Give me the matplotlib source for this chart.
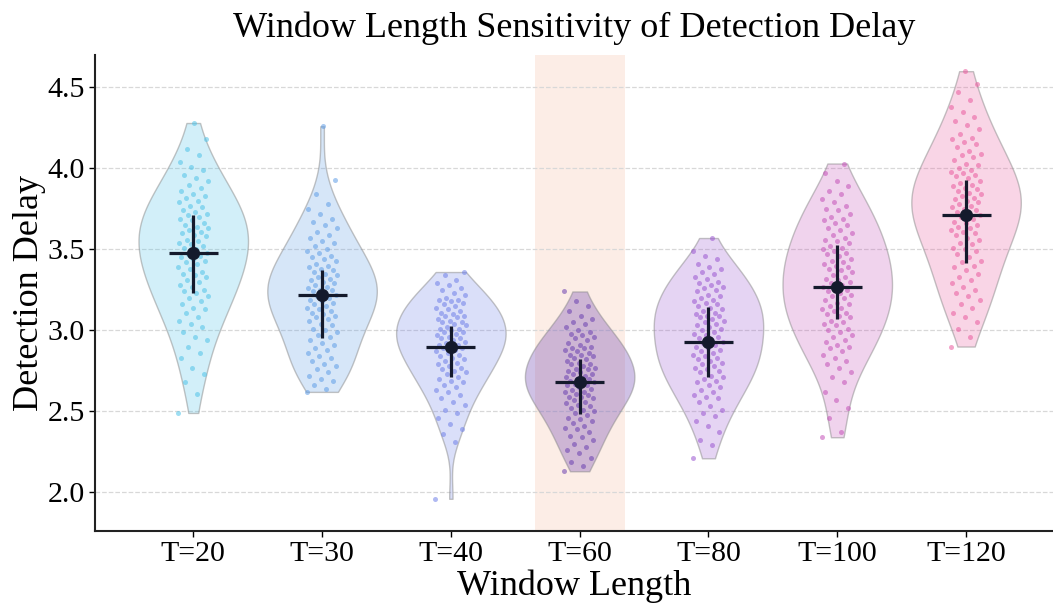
import numpy as np
import matplotlib.pyplot as plt
from matplotlib.colors import to_rgba

# window lengths and detection delay samples
labels = ["T=20", "T=30", "T=40", "T=60", "T=80", "T=100", "T=120"]

delay_t20 = [2.49, 2.61, 2.68, 2.73, 2.77, 2.83, 2.86, 2.90, 2.94, 2.96, 2.99, 3.02, 3.04,
             3.06, 3.08, 3.11, 3.13, 3.14, 3.16, 3.18, 3.20, 3.21, 3.23, 3.24,
             3.25, 3.27, 3.28, 3.30, 3.31, 3.33, 3.34, 3.35, 3.36, 3.38, 3.39, 3.41, 3.42, 3.43, 3.44,
             3.45, 3.46, 3.47, 3.48, 3.50, 3.51, 3.52, 3.53, 3.54, 3.55, 3.56, 3.58, 3.59, 3.60,
             3.61, 3.62, 3.63, 3.64, 3.65, 3.66, 3.68, 3.69, 3.70, 3.71, 3.72, 3.73, 3.74,
             3.76, 3.77, 3.79, 3.80, 3.82, 3.83, 3.84, 3.86, 3.88, 3.90, 3.92, 3.94,
             3.96, 3.99, 4.01, 4.04, 4.08, 4.12, 4.18, 4.28]
delay_t30 = [2.62, 2.64, 2.66, 2.69, 2.70, 2.72, 2.74, 2.76, 2.78, 2.79, 2.81, 2.83, 2.84, 2.86,
             2.88, 2.89, 2.91, 2.92, 2.94, 2.96, 2.97, 2.99, 3.00, 3.01, 3.03, 3.04, 3.06, 3.07,
             3.08, 3.09, 3.10, 3.11, 3.12, 3.13, 3.14, 3.15, 3.16, 3.17, 3.18, 3.19, 3.20, 3.21,
             3.22, 3.23, 3.24, 3.25, 3.25, 3.26, 3.27, 3.28, 3.29, 3.30, 3.31, 3.32, 3.33, 3.34,
             3.35, 3.36, 3.37, 3.38, 3.39, 3.40, 3.41, 3.43, 3.44, 3.45, 3.46, 3.48, 3.49,
             3.50, 3.52, 3.54, 3.55, 3.57, 3.59, 3.61, 3.63, 3.65, 3.67, 3.69, 3.72, 3.75, 3.78,
             3.84, 3.93, 4.26]
delay_t40 = [1.96, 2.31, 2.36, 2.39, 2.42, 2.46, 2.49, 2.51, 2.54, 2.56, 2.58,
             2.60, 2.62, 2.63, 2.65, 2.66, 2.68, 2.69, 2.70, 2.71, 2.73, 2.74, 2.75, 2.76, 2.77,
             2.78, 2.79, 2.80, 2.81, 2.82, 2.83, 2.84, 2.85, 2.86, 2.87, 2.88, 2.89, 2.89,
             2.90, 2.91, 2.91, 2.92, 2.93, 2.94, 2.95, 2.95, 2.96, 2.97, 2.98, 2.99, 2.99,
             3.00, 3.01, 3.01, 3.02, 3.03, 3.04, 3.05, 3.05, 3.06, 3.07, 3.08, 3.09, 3.09,
             3.10, 3.11, 3.12, 3.13, 3.14, 3.15, 3.16, 3.17, 3.18, 3.19, 3.19,
             3.20, 3.22, 3.23, 3.25, 3.26, 3.28, 3.29, 3.31, 3.34, 3.36]
delay_t60 = [2.13, 2.16, 2.19, 2.21, 2.24, 2.26, 2.28, 2.30, 2.32, 2.34, 2.35, 2.37, 2.39,
             2.40, 2.41, 2.43, 2.44, 2.45, 2.46, 2.48, 2.49, 2.50, 2.51, 2.52, 2.53, 2.54, 2.55,
             2.56, 2.57, 2.58, 2.59, 2.59, 2.60, 2.61, 2.62, 2.62, 2.63, 2.64, 2.65, 2.66, 2.66,
             2.67, 2.68, 2.69, 2.69, 2.70, 2.70, 2.71, 2.72, 2.73, 2.73, 2.74, 2.75, 2.76, 2.76,
             2.77, 2.78, 2.79, 2.79, 2.80, 2.81, 2.82, 2.83, 2.84, 2.85, 2.85, 2.86, 2.87, 2.88,
             2.89, 2.89, 2.90, 2.91, 2.92, 2.94, 2.95, 2.96, 2.97, 2.98, 2.99,
             3.00, 3.02, 3.04, 3.05, 3.07, 3.09, 3.12, 3.15, 3.18, 3.24]
delay_t80 = [2.21, 2.29, 2.32, 2.37, 2.41, 2.44, 2.47, 2.49, 2.51, 2.53, 2.56, 2.58, 2.59,
             2.60, 2.62, 2.63, 2.65, 2.66, 2.68, 2.69, 2.70, 2.71, 2.72, 2.74, 2.75, 2.76, 2.77,
             2.78, 2.79, 2.80, 2.81, 2.82, 2.83, 2.84, 2.85, 2.86, 2.87, 2.88, 2.89,
             2.90, 2.91, 2.92, 2.93, 2.94, 2.95, 2.96, 2.97, 2.98, 2.99,
             3.00, 3.01, 3.02, 3.03, 3.04, 3.05, 3.06, 3.07, 3.08, 3.09, 3.09,
             3.10, 3.11, 3.12, 3.13, 3.14, 3.15, 3.16, 3.17, 3.18, 3.19,
             3.20, 3.21, 3.22, 3.24, 3.25, 3.26, 3.27, 3.28, 3.29,
             3.30, 3.32, 3.33, 3.35, 3.36, 3.38, 3.39, 3.41, 3.44, 3.46, 3.49, 3.57]
delay_t100 = [2.34, 2.37, 2.46, 2.52, 2.57, 2.62, 2.68, 2.71, 2.74, 2.77, 2.79,
              2.81, 2.83, 2.85, 2.87, 2.89, 2.90, 2.91, 2.93, 2.94, 2.96, 2.97, 2.99,
              3.00, 3.01, 3.03, 3.04, 3.05, 3.06, 3.08, 3.09,
              3.10, 3.11, 3.12, 3.13, 3.14, 3.15, 3.16, 3.17, 3.19,
              3.20, 3.21, 3.22, 3.23, 3.24, 3.25, 3.26, 3.27, 3.28, 3.29,
              3.30, 3.31, 3.32, 3.33, 3.34, 3.36, 3.37, 3.38, 3.39,
              3.40, 3.41, 3.42, 3.43, 3.44, 3.46, 3.47, 3.48, 3.49,
              3.50, 3.51, 3.52, 3.54, 3.55, 3.56, 3.57, 3.59,
              3.60, 3.62, 3.63, 3.65, 3.66, 3.68, 3.69,
              3.70, 3.72, 3.74, 3.75, 3.77, 3.79, 3.81, 3.84, 3.86, 3.89, 3.92, 3.97, 4.03]
delay_t120 = [2.90, 2.96, 3.01, 3.05, 3.08, 3.11, 3.14, 3.16, 3.19, 3.21, 3.23, 3.25, 3.27, 3.29,
              3.31, 3.33, 3.35, 3.37, 3.39, 3.40, 3.42, 3.43, 3.45, 3.47, 3.49,
              3.50, 3.51, 3.53, 3.54, 3.56, 3.57, 3.59,
              3.60, 3.61, 3.62, 3.63, 3.64, 3.65, 3.66, 3.67, 3.69,
              3.70, 3.71, 3.72, 3.73, 3.74, 3.75, 3.76, 3.77, 3.78, 3.79,
              3.80, 3.81, 3.82, 3.83, 3.84, 3.85, 3.86, 3.87, 3.88, 3.89,
              3.90, 3.91, 3.92, 3.94, 3.95, 3.96, 3.97, 3.98, 3.99,
              4.00, 4.02, 4.03, 4.05, 4.07, 4.08, 4.09, 4.11, 4.13, 4.15, 4.16, 4.18, 4.19,
              4.21, 4.24, 4.27, 4.29, 4.32, 4.35, 4.38, 4.42, 4.47, 4.52, 4.60]

groups = [delay_t20, delay_t30, delay_t40, delay_t60, delay_t80, delay_t100, delay_t120]

# summary markers (mean and interval bars as drawn in the figure)
means = [3.48, 3.22, 2.90, 2.68, 2.93, 3.265, 3.71]
lower = [3.23, 2.955, 2.71, 2.486, 2.71, 3.07, 3.414]
upper = [3.71, 3.37, 3.025, 2.825, 3.146, 3.527, 3.928]

colors = ['#4fc3e8', '#5f9de6', '#6f80e8', '#6a3fb0', '#9a55d0', '#c450b8', '#ea5a9e']
highlight = 3
dark = '#141a2c'

plt.rcParams['font.family'] = ['Liberation Serif', 'DejaVu Serif']

fig = plt.figure(figsize=(10.53, 6.03), dpi=100)
ax = fig.add_axes([0.0902, 0.1199, 0.9098, 0.7889])
pos = np.arange(len(labels))

ax.axvspan(highlight - 0.35, highlight + 0.35, color='#f4a582', alpha=0.2, lw=0, zorder=0)

parts = ax.violinplot(groups, positions=pos, widths=0.85, showextrema=False)
for i, body in enumerate(parts['bodies']):
    body.set_alpha(None)
    a = 0.32 if i == highlight else 0.25
    body.set_facecolor(to_rgba(colors[i], a))
    body.set_edgecolor(to_rgba('#8a8a8a', 0.5))
    body.set_linewidth(1.0)
    body.set_zorder(2)

# jittered raw points
for i, vals in enumerate(groups):
    n = len(vals)
    jit = ((np.arange(n) * 0.618034) % 1 - 0.5) * 0.24
    ax.scatter(pos[i] + jit, vals, s=13, color=colors[i], alpha=0.55, lw=0, zorder=3)

ax.vlines(pos, lower, upper, color=dark, lw=2.3, zorder=4)
ax.hlines(means, pos - 0.19, pos + 0.19, color=dark, lw=2.3, zorder=4)
ax.plot(pos, means, 'o', ms=8.5, color=dark, zorder=5)

ax.set_xlim(-0.763, 6.675)
ax.set_ylim(1.763, 4.70)
ax.set_xticks(pos)
ax.set_xticklabels(labels)
ax.set_yticks([2.0, 2.5, 3.0, 3.5, 4.0, 4.5])
ax.set_yticklabels(['2.0', '2.5', '3.0', '3.5', '4.0', '4.5'])
ax.tick_params(labelsize=21.5, length=4, width=1)

ax.yaxis.grid(True, linestyle='--', color='#d8d8d8', lw=0.9)
ax.set_axisbelow(True)
for s in ['top', 'right']:
    ax.spines[s].set_visible(False)
for s in ['left', 'bottom']:
    ax.spines[s].set_linewidth(1.5)
    ax.spines[s].set_color('#222222')

ax.set_title('Window Length Sensitivity of Detection Delay', fontsize=26, pad=13)
ax.set_xlabel('Window Length', fontsize=26, labelpad=2)
ax.set_ylabel('Detection Delay', fontsize=26, labelpad=1)

fig.savefig('out.png', dpi=100)
